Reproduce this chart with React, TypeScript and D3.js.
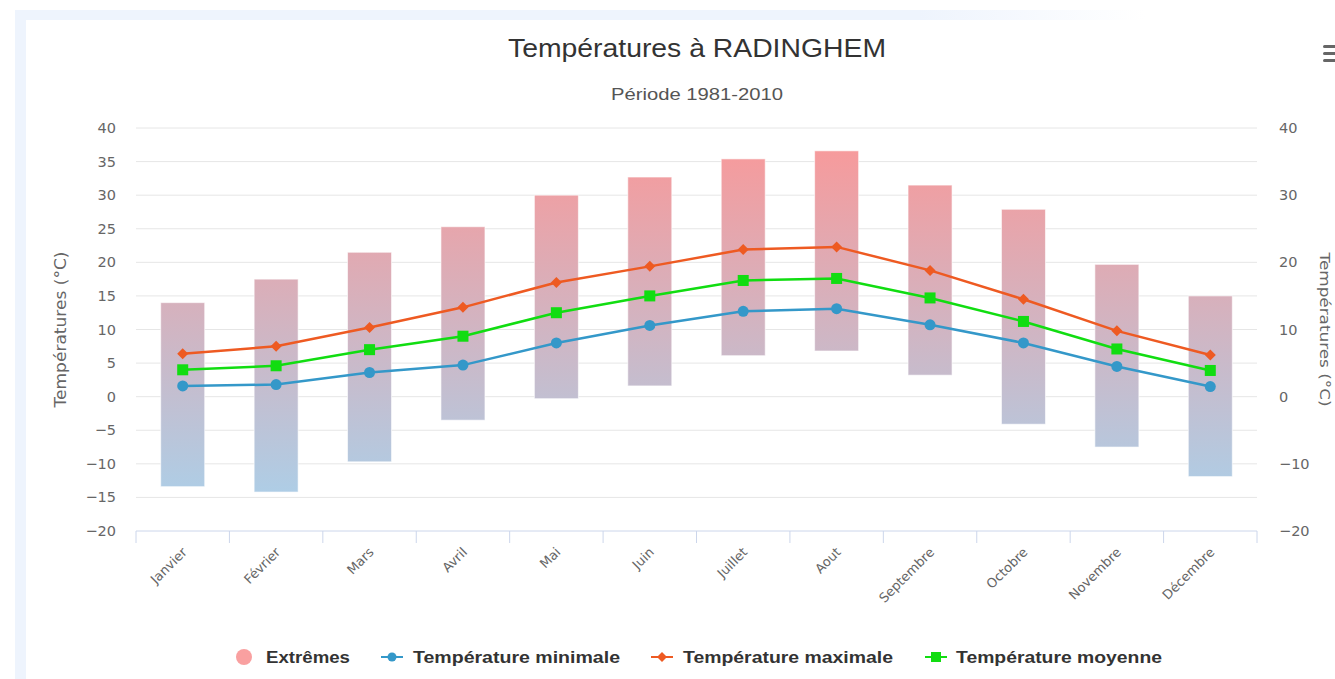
import React from 'react';
import * as d3 from 'd3';

const months = ['Janvier', 'Février', 'Mars', 'Avril', 'Mai', 'Juin', 'Juillet', 'Aout', 'Septembre', 'Octobre', 'Novembre', 'Décembre'];
const extremeLow = [-13.4, -14.2, -9.7, -3.5, -0.3, 1.6, 6.1, 6.8, 3.2, -4.1, -7.5, -11.9];
const extremeHigh = [14.0, 17.5, 21.5, 25.3, 30.0, 32.7, 35.4, 36.6, 31.5, 27.9, 19.7, 15.0];
const tempMin = [1.6, 1.8, 3.6, 4.7, 8.0, 10.6, 12.7, 13.1, 10.7, 8.0, 4.5, 1.5];
const tempMax = [6.4, 7.5, 10.3, 13.3, 17.0, 19.4, 21.9, 22.3, 18.8, 14.5, 9.8, 6.2];
const tempMean = [4.0, 4.6, 7.0, 9.0, 12.5, 15.0, 17.3, 17.6, 14.7, 11.2, 7.1, 3.9];
const leftTicks = [-20, -15, -10, -5, 0, 5, 10, 15, 20, 25, 30, 35, 40];
const rightTicks = [-20, -10, 0, 10, 20, 30, 40];

const W = 1335, H = 679;
const plot = { left: 136, right: 1257, top: 128, bottom: 531 };

const fmt = (t: number) => (t < 0 ? '\u2212' + Math.abs(t) : String(t));

const App: React.FC = () => {
  const x = d3.scaleBand<string>().domain(months).range([plot.left, plot.right]).paddingInner(0).paddingOuter(0);
  const y = d3.scaleLinear().domain([-20, 40]).range([plot.bottom, plot.top]);
  const cx = (m: string) => (x(m) || 0) + x.bandwidth() / 2;
  const barW = 44;

  const line = d3.line<number>().x((_, i) => cx(months[i])).y(d => y(d));

  const font = "'Liberation Sans Narrow', 'Liberation Sans', Arial, sans-serif";
  const axisFont = "'DejaVu Sans', Verdana, sans-serif";

  const boundaries = months.map(m => x(m) || 0).concat([plot.right]);

  const legend = [
    { key: 'ext', label: 'Extrêmes', sx: 244, tx: 266, tl: 84 },
    { key: 'min', label: 'Température minimale', sx: 392, tx: 413, tl: 207, color: '#3498c9' },
    { key: 'max', label: 'Température maximale', sx: 662, tx: 683, tl: 210, color: '#ee5a22' },
    { key: 'mean', label: 'Température moyenne', sx: 936, tx: 956, tl: 206, color: '#11dd11' },
  ];

  return (
    <svg width={W} height={H} style={{ position: 'fixed', left: 0, top: 0, background: '#fff' }}>
      <defs>
        <linearGradient id="extGrad" gradientUnits="userSpaceOnUse" x1={0} y1={plot.top} x2={0} y2={plot.bottom}>
          <stop offset="0%" stopColor="#fb9797" />
          <stop offset="100%" stopColor="#a6d3ee" />
        </linearGradient>
        <linearGradient id="topFade" x1="0" x2="1" y1="0" y2="0">
          <stop offset="0%" stopColor="#eef4fd" />
          <stop offset="80%" stopColor="#eef4fd" />
          <stop offset="100%" stopColor="#ffffff" />
        </linearGradient>
      </defs>

      {/* card frame */}
      <rect x={15} y={10} width={1130} height={10} fill="url(#topFade)" />
      <rect x={15} y={10} width={11} height={H - 10} fill="#eef4fd" />

      <text x={697} y={57} textAnchor="middle" fontFamily={font} fontSize={25} fill="#333" textLength={378} lengthAdjust="spacingAndGlyphs">Températures à RADINGHEM</text>
      <text x={697} y={100} textAnchor="middle" fontFamily={font} fontSize={17} fill="#555" textLength={172} lengthAdjust="spacingAndGlyphs">Période 1981-2010</text>

      {/* menu icon */}
      {[45, 52, 59].map(yy => <rect key={yy} x={1323} y={yy} width={14} height={3} rx={1.5} fill="#666" />)}

      {/* grid */}
      {leftTicks.filter(t => t > -20).map(t => (
        <line key={t} x1={plot.left} x2={plot.right} y1={y(t)} y2={y(t)} stroke="#e6e6e6" strokeWidth={1} />
      ))}

      {/* left axis labels */}
      {leftTicks.map(t => (
        <text key={t} x={116} y={y(t) + 5} textAnchor="end" fontFamily={axisFont} fontSize={14.5} fill="#666">{fmt(t)}</text>
      ))}
      <text transform={`translate(66,${(plot.top + plot.bottom) / 2}) rotate(-90)`} textAnchor="middle" fontFamily={axisFont} fontSize={15} fill="#666" textLength={156} lengthAdjust="spacingAndGlyphs">Températures (°C)</text>

      {/* right axis labels */}
      {rightTicks.map(t => (
        <text key={t} x={1279} y={y(t) + 5} textAnchor="start" fontFamily={axisFont} fontSize={14.5} fill="#666">{fmt(t)}</text>
      ))}
      <text transform={`translate(1320,${(plot.top + plot.bottom) / 2}) rotate(90)`} textAnchor="middle" fontFamily={axisFont} fontSize={14} fill="#666" textLength={154} lengthAdjust="spacingAndGlyphs">Températures (°C)</text>

      {/* x axis */}
      <line x1={plot.left} x2={plot.right} y1={plot.bottom} y2={plot.bottom} stroke="#ccd6eb" strokeWidth={1} />
      {boundaries.map((b, i) => (
        <line key={i} x1={b} x2={b} y1={plot.bottom} y2={plot.bottom + 12} stroke="#ccd6eb" strokeWidth={1} />
      ))}
      {months.map(m => (
        <text key={m} transform={`translate(${cx(m) + 5},${plot.bottom + 22}) rotate(-45)`} textAnchor="end" fontFamily="'DejaVu Sans', sans-serif" fontSize={13} fill="#666">{m}</text>
      ))}

      {/* extremes bars */}
      {months.map((m, i) => (
        <rect key={m} x={cx(m) - barW / 2} y={y(extremeHigh[i])} width={barW} height={y(extremeLow[i]) - y(extremeHigh[i])} fill="url(#extGrad)" stroke="#ffffff" strokeOpacity={0.6} strokeWidth={1} />
      ))}

      {/* lines */}
      <path d={line(tempMin) || ''} fill="none" stroke="#3498c9" strokeWidth={2.5} />
      <path d={line(tempMax) || ''} fill="none" stroke="#ee5a22" strokeWidth={2.5} />
      <path d={line(tempMean) || ''} fill="none" stroke="#11dd11" strokeWidth={2.5} />

      {tempMin.map((v, i) => <circle key={'mn' + i} cx={cx(months[i])} cy={y(v)} r={5.5} fill="#3498c9" />)}
      {tempMax.map((v, i) => {
        const px = cx(months[i]), py = y(v);
        return <path key={'mx' + i} d={`M${px},${py - 5.5}L${px + 5.5},${py}L${px},${py + 5.5}L${px - 5.5},${py}Z`} fill="#ee5a22" />;
      })}
      {tempMean.map((v, i) => <rect key={'me' + i} x={cx(months[i]) - 5.5} y={y(v) - 5.5} width={11} height={11} fill="#11dd11" />)}

      {/* legend */}
      {legend.map(l => (
        <g key={l.key}>
          {l.key === 'ext' && <circle cx={l.sx} cy={657} r={8} fill="#f9a0a0" />}
          {l.key !== 'ext' && <line x1={l.sx - 11} x2={l.sx + 11} y1={657} y2={657} stroke={l.color} strokeWidth={2} />}
          {l.key === 'min' && <circle cx={l.sx} cy={657} r={4.5} fill={l.color} />}
          {l.key === 'max' && <path d={`M${l.sx},${652}L${l.sx + 5},657L${l.sx},662L${l.sx - 5},657Z`} fill={l.color} />}
          {l.key === 'mean' && <rect x={l.sx - 5} y={652} width={10} height={10} fill={l.color} />}
          <text x={l.tx} y={663} fontFamily={font} fontWeight="bold" fontSize={17} fill="#333" textLength={l.tl} lengthAdjust="spacingAndGlyphs">{l.label}</text>
        </g>
      ))}
    </svg>
  );
};

export default App;
